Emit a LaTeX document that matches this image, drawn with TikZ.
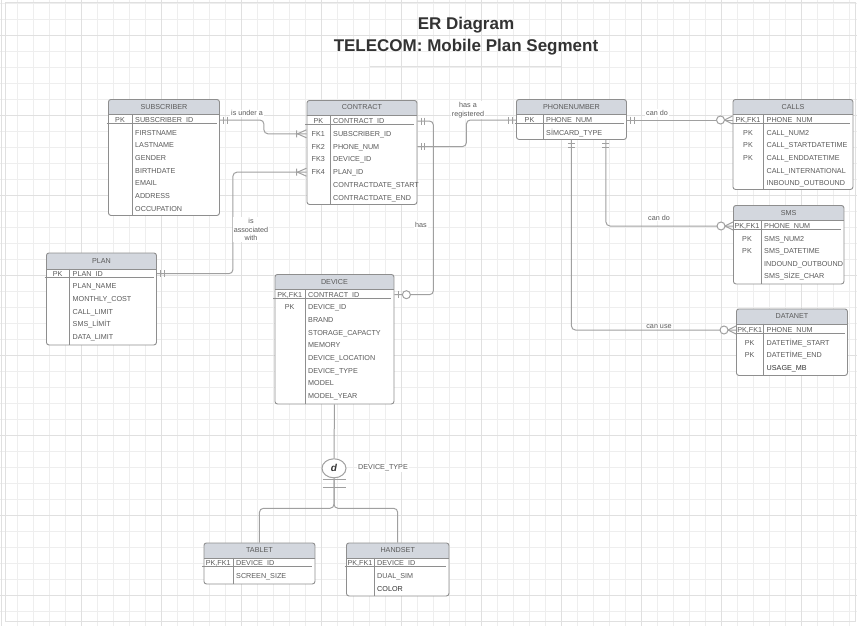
\documentclass[tikz,border=0pt]{standalone}
\usepackage{fontspec}
\setmainfont{Liberation Sans}
\usetikzlibrary{positioning,shapes.geometric,calc}

\definecolor{gridminor}{HTML}{EEEEEE}
\definecolor{gridmajor}{HTML}{E0E0E0}
\definecolor{boxgray}{HTML}{8E8E8E}
\definecolor{linegray}{HTML}{A0A0A0}
\definecolor{hdrfill}{HTML}{D3D7DE}
\definecolor{txtgray}{HTML}{5A5A5A}
\definecolor{txtdark}{HTML}{333333}

\tikzset{
  tbl/.style={draw=boxgray, fill=white, line width=0.9pt, rounded corners=2.5pt, anchor=north west, inner sep=0pt,
    path picture={\fill[hdrfill, sharp corners] (path picture bounding box.north west) rectangle ([yshift=-#1]path picture bounding box.north east);
      \draw[boxgray, line width=0.9pt, sharp corners] ([yshift=-#1]path picture bounding box.north west) -- ([yshift=-#1]path picture bounding box.north east);}},
  tbl/.default=15pt,
  ttl/.style={text=txtgray, inner sep=0pt, text height=5pt, text depth=0pt, font=\fontsize{7.2}{8}\selectfont},
  fld/.style={anchor=west, text=txtgray, inner sep=0pt, text height=5pt, text depth=0pt, font=\fontsize{7.2}{8}\selectfont},
  key/.style={fld, anchor=center},
  rule/.style={draw=boxgray, line width=0.9pt},
  rel/.style={draw=linegray, line width=1pt, rounded corners=4pt},
  sym/.style={draw=linegray, line width=1pt},
  lbl/.style={text=txtgray, fill=white, inner sep=1pt, align=center, font=\fontsize{7.2}{8.6}\selectfont},
  title/.style={text=txtdark, inner sep=0pt, text height=12pt, text depth=0pt, font=\fontsize{17}{20}\bfseries},
  dsym/.style={ellipse, draw=linegray, line width=1pt, fill=white, minimum width=24pt, minimum height=19pt, inner sep=0pt, text=txtdark, font=\fontsize{10}{12}\bfseries\itshape},
  oneone/.pic={\draw[sym] (4,-3.5) -- (4,3.5) (7.5,-3.5) -- (7.5,3.5);},
  zeroone/.pic={\draw[sym] (4.5,-3.5) -- (4.5,3.5); \draw[sym, fill=white] (12,0) circle[radius=4];},
  onemany/.pic={\draw[sym] (0,-4) -- (9,0) -- (0,4) (10,-3.5) -- (10,3.5);},
  zeromany/.pic={\draw[sym] (0,-4) -- (8,0) -- (0,4); \draw[sym, fill=white] (12,0) circle[radius=4];}
}

\begin{document}
\begin{tikzpicture}[x=1pt,y=-1pt]
\useasboundingbox (0,0) rectangle (857,626);
% background grid
\begin{scope}
\clip (0,0) rectangle (857,626);
\draw[gridminor, line width=0.6pt, shift={(1.7,3)}, step=16pt] (-16,630) grid (860,-16);
\draw[gridmajor, line width=0.7pt, shift={(1.7,35)}, step=80pt] (-80,640) grid (880,-80);
\end{scope}
\draw[gridmajor, line width=1pt] (5,3) rectangle (855,621);

% title
\node[title] (t1) at (466,23.8) {ER Diagram};
\node[title] (t2) at (466,45.8) {TELECOM: Mobile Plan Segment};
\draw[gridmajor, line width=1.3pt] (370,66.5) -- (562,66.5);

% SUBSCRIBER
\node[tbl, minimum width=111, minimum height=116] (sub) at (108,99) {};
\node[ttl] (subh) at ([yshift=-7.5pt]sub.north) {SUBSCRIBER};
\draw[rule] ([xshift=24pt,yshift=-15pt]sub.north west) -- ([xshift=24pt]sub.south west);
\node[key] (subk1) at (120,120) {PK};
\node[fld] (s1) at (135,120) {SUBSCRIBER\_ID};
\node[fld] (s2) at (135,132.7) {FIRSTNAME};
\node[fld] (s3) at (135,145.3) {LASTNAME};
\node[fld] (s4) at (135,158) {GENDER};
\node[fld] (s5) at (135,170.6) {BIRTHDATE};
\node[fld] (s6) at (135,183.3) {EMAIL};
\node[fld] (s7) at (135,195.9) {ADDRESS};
\node[fld] (s8) at (135,208.6) {OCCUPATION};
\draw[rule] ($(s1.south -| sub.west)+(-1.5,0.8)$) -- ($(s1.south -| sub.east)+(-3,0.8)$);

% CONTRACT
\node[tbl, minimum width=110, minimum height=104] (con) at (306.5,100) {};
\node[ttl] (conh) at ([yshift=-7.5pt]con.north) {CONTRACT};
\draw[rule] ([xshift=23.5pt,yshift=-15pt]con.north west) -- ([xshift=23.5pt]con.south west);
\node[key] (conk1) at (318.3,121) {PK};
\node[key] (conk2) at (318.3,133.8) {FK1};
\node[key] (conk3) at (318.3,146.6) {FK2};
\node[key] (conk4) at (318.3,159.4) {FK3};
\node[key] (conk5) at (318.3,172.2) {FK4};
\node[fld] (c1) at (333,121) {CONTRACT\_ID};
\node[fld] (c2) at (333,133.8) {SUBSCRIBER\_ID};
\node[fld] (c3) at (333,146.6) {PHONE\_NUM};
\node[fld] (c4) at (333,159.4) {DEVICE\_ID};
\node[fld] (c5) at (333,172.2) {PLAN\_ID};
\node[fld] (c6) at (333,185) {CONTRACTDATE\_START};
\node[fld] (c7) at (333,197.8) {CONTRACTDATE\_END};
\draw[rule] ($(c1.south -| con.west)+(-1.5,0.8)$) -- ($(c1.south -| con.east)+(-3,0.8)$);

% PHONENUMBER
\node[tbl, minimum width=110, minimum height=40] (num) at (516,99) {};
\node[ttl] (numh) at ([yshift=-7.5pt]num.north) {PHONENUMBER};
\draw[rule] ([xshift=27pt,yshift=-15pt]num.north west) -- ([xshift=27pt]num.south west);
\node[key] (numk1) at (529.5,120) {PK};
\node[fld] (n1) at (546,120) {PHONE\_NUM};
\node[fld] (n2) at (546,132.5) {SİMCARD\_TYPE};
\draw[rule] ($(n1.south -| num.west)+(-1.5,0.8)$) -- ($(n1.south -| num.east)+(-3,0.8)$);

% CALLS
\node[tbl, minimum width=120, minimum height=90] (calls) at (732.5,99) {};
\node[ttl] (callsh) at ([yshift=-7.5pt]calls.north) {CALLS};
\draw[rule] ([xshift=31pt,yshift=-15pt]calls.north west) -- ([xshift=31pt]calls.south west);
\node[key] (lk1) at (748,120) {PK,FK1};
\node[key] (lk2) at (748,132.7) {PK};
\node[key] (lk3) at (748,145.3) {PK};
\node[key] (lk4) at (748,158) {PK};
\node[fld] (l1) at (766.5,120) {PHONE\_NUM};
\node[fld] (l2) at (766.5,132.7) {CALL\_NUM2};
\node[fld] (l3) at (766.5,145.3) {CALL\_STARTDATETIME};
\node[fld] (l4) at (766.5,158) {CALL\_ENDDATETIME};
\node[fld] (l5) at (766.5,170.6) {CALL\_INTERNATIONAL};
\node[fld] (l6) at (766.5,183.3) {INBOUND\_OUTBOUND};
\draw[rule] ($(l1.south -| calls.west)+(-1.5,0.8)$) -- ($(l1.south -| calls.east)+(-3,0.8)$);

% SMS
\node[tbl, minimum width=110.5, minimum height=78.5] (sms) at (733,205) {};
\node[ttl] (smsh) at ([yshift=-7.5pt]sms.north) {SMS};
\draw[rule] ([xshift=28pt,yshift=-15pt]sms.north west) -- ([xshift=28pt]sms.south west);
\node[key] (mk1) at (747,226) {PK,FK1};
\node[key] (mk2) at (747,238.6) {PK};
\node[key] (mk3) at (747,251.2) {PK};
\node[fld] (m1) at (764,226) {PHONE\_NUM};
\node[fld] (m2) at (764,238.6) {SMS\_NUM2};
\node[fld] (m3) at (764,251.2) {SMS\_DATETIME};
\node[fld] (m4) at (764,263.8) {INDOUND\_OUTBOUND};
\node[fld] (m5) at (764,276.4) {SMS\_SİZE\_CHAR};
\draw[rule] ($(m1.south -| sms.west)+(-1.5,0.8)$) -- ($(m1.south -| sms.east)+(-3,0.8)$);

% DATANET
\node[tbl, minimum width=111, minimum height=66.5] (dat) at (736,308.5) {};
\node[ttl] (dath) at ([yshift=-7.5pt]dat.north) {DATANET};
\draw[rule] ([xshift=27.5pt,yshift=-15pt]dat.north west) -- ([xshift=27.5pt]dat.south west);
\node[key] (ak1) at (749.7,330) {PK,FK1};
\node[key] (ak2) at (749.7,342.6) {PK};
\node[key] (ak3) at (749.7,355.2) {PK};
\node[fld] (a1) at (766.5,330) {PHONE\_NUM};
\node[fld] (a2) at (766.5,342.6) {DATETİME\_START};
\node[fld] (a3) at (766.5,355.2) {DATETİME\_END};
\node[fld, text=txtdark] (a4) at (766.5,367.8) {USAGE\_MB};
\draw[rule] ($(a1.south -| dat.west)+(-1.5,0.8)$) -- ($(a1.south -| dat.east)+(-3,0.8)$);

% PLAN
\node[tbl=16pt, minimum width=110, minimum height=92] (plan) at (46,252.5) {};
\node[ttl] (planh) at ([yshift=-8pt]plan.north) {PLAN};
\draw[rule] ([xshift=23.5pt,yshift=-16pt]plan.north west) -- ([xshift=23.5pt]plan.south west);
\node[key] (pk1) at (57.7,273.7) {PK};
\node[fld] (p1) at (72.5,273.7) {PLAN\_ID};
\node[fld] (p2) at (72.5,286.3) {PLAN\_NAME};
\node[fld] (p3) at (72.5,298.9) {MONTHLY\_COST};
\node[fld] (p4) at (72.5,311.5) {CALL\_LIMIT};
\node[fld] (p5) at (72.5,324.1) {SMS\_LİMİT};
\node[fld] (p6) at (72.5,336.7) {DATA\_LIMIT};
\draw[rule] ($(p1.south -| plan.west)+(-1.5,0.8)$) -- ($(p1.south -| plan.east)+(-3,0.8)$);

% DEVICE
\node[tbl, minimum width=119, minimum height=129.5] (dev) at (274.5,274) {};
\node[ttl] (devh) at ([yshift=-7.5pt]dev.north) {DEVICE};
\draw[rule] ([xshift=30.5pt,yshift=-15pt]dev.north west) -- ([xshift=30.5pt]dev.south west);
\node[key] (dk1) at (289.7,294.7) {PK,FK1};
\node[key] (dk2) at (289.7,307.4) {PK};
\node[fld] (d1) at (308,294.7) {CONTRACT\_ID};
\node[fld] (d2) at (308,307.4) {DEVICE\_ID};
\node[fld] (d3) at (308,320) {BRAND};
\node[fld] (d4) at (308,332.7) {STORAGE\_CAPACTY};
\node[fld] (d5) at (308,345.3) {MEMORY};
\node[fld] (d6) at (308,358) {DEVICE\_LOCATION};
\node[fld] (d7) at (308,370.6) {DEVICE\_TYPE};
\node[fld] (d8) at (308,383.3) {MODEL};
\node[fld] (d9) at (308,395.9) {MODEL\_YEAR};
\draw[rule] ($(d1.south -| dev.west)+(-1.5,0.8)$) -- ($(d1.south -| dev.east)+(-3,0.8)$);

% TABLET
\node[tbl, minimum width=111, minimum height=41] (tab) at (203.5,542.5) {};
\node[ttl] (tabh) at ([yshift=-7.5pt]tab.north) {TABLET};
\draw[rule] ([xshift=29.5pt,yshift=-15pt]tab.north west) -- ([xshift=29.5pt]tab.south west);
\node[key] (bk1) at (218.2,563.3) {PK,FK1};
\node[fld] (b1) at (236,563.3) {DEVICE\_ID};
\node[fld] (b2) at (236,576) {SCREEN\_SIZE};
\draw[rule] ($(b1.south -| tab.west)+(-1.5,0.8)$) -- ($(b1.south -| tab.east)+(-3,0.8)$);

% HANDSET
\node[tbl, minimum width=102.5, minimum height=53] (hand) at (346,542.5) {};
\node[ttl] (handh) at ([yshift=-7.5pt]hand.north) {HANDSET};
\draw[rule] ([xshift=28pt,yshift=-15pt]hand.north west) -- ([xshift=28pt]hand.south west);
\node[key] (hk1) at (360,563.3) {PK,FK1};
\node[fld] (h1) at (377,563.3) {DEVICE\_ID};
\node[fld] (h2) at (377,576) {DUAL\_SIM};
\node[fld, text=txtdark] (h3) at (377,588.7) {COLOR};
\draw[rule] ($(h1.south -| hand.west)+(-1.5,0.8)$) -- ($(h1.south -| hand.east)+(-3,0.8)$);

% relationships
\draw[rel] (s1 -| sub.east) -- ++(44,0) |- (c2 -| con.west);
\pic at (s1 -| sub.east) {oneone};
\pic[rotate=180] at (c2 -| con.west) {onemany};
\node[lbl] (r1) at (247,113.3) {is under a};

\draw[rel] (p1 -| plan.east) -- ++(76,0) |- (c5 -| con.west);
\pic at (p1 -| plan.east) {oneone};
\pic[rotate=180] at (c5 -| con.west) {onemany};
\node[lbl, font=\fontsize{7.2}{8.5}\selectfont] (r2) at (251,229.5) {is\\associated\\with};

\draw[rel] (c1 -| con.east) -- ++(16,0) |- (d1 -| dev.east);
\pic at (c1 -| con.east) {oneone};
\pic at (d1 -| dev.east) {zeroone};
\node[lbl] (r3) at (421,225) {has};

\draw[rel] (c3 -| con.east) -- ++(49,0) |- (n1 -| num.west);
\pic at (c3 -| con.east) {oneone};
\pic[rotate=180] at (n1 -| num.west) {oneone};
\node[lbl] (r4) at (468,110) {has a\\registered};

\draw[rel] (n1 -| num.east) -- (l1 -| calls.west);
\pic at (n1 -| num.east) {oneone};
\pic[rotate=180] at (l1 -| calls.west) {zeromany};
\node[lbl] (r5) at (657,113) {can do};

\draw[rel] ([xshift=34.5pt]num.south) |- (m1 -| sms.west);
\pic[rotate=-90] at ([xshift=34.5pt]num.south) {oneone};
\pic[rotate=180] at (m1 -| sms.west) {zeromany};
\node[lbl] (r6) at (659,217.5) {can do};

\draw[rel] (num.south) |- (a1 -| dat.west);
\pic[rotate=-90] at (num.south) {oneone};
\pic[rotate=180] at (a1 -| dat.west) {zeromany};
\node[lbl] (r7) at (659,326.5) {can use};

% disjoint subtypes
\node[dsym] (dis) at (334,468.3) {d};
\node[lbl, anchor=west] (r8) at (357,468) {DEVICE\_TYPE};
\draw[rel] (dev.south) -- (dis.north);
\draw[rel] (dis.south) -- ++(0,30) -| (tab.north);
\draw[rel] (dis.south) -- ++(0,30) -| (hand.north);
\draw[sym] ($(dis.south)+(-11.5,1.3)$) -- ++(23,0);
\draw[sym] ($(dis.south)+(-11.5,9)$) -- ++(23,0);
\end{tikzpicture}
\end{document}
